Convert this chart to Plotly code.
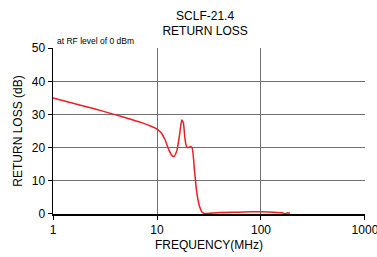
import plotly.graph_objects as go

freq_mhz = [1, 2, 3, 5, 7, 9, 10, 11, 12, 13, 14, 14.5, 15.5, 16.5, 17.3, 17.9, 18.6, 19.3, 20, 21, 21.8, 22.8, 24, 25.5, 27, 28.5, 31, 40, 60, 80, 100, 130, 160, 170, 180, 190]
return_loss_db = [35, 32.5, 31, 29, 27.6, 26.3, 25.6, 24.4, 22.2, 19.3, 17.5, 17.3, 19.0, 24.0, 28.3, 27.5, 22.5, 20.2, 20.0, 20.3, 19.8, 14.0, 7.0, 2.5, 0.6, 0.1, 0.1, 0.4, 0.5, 0.6, 0.6, 0.5, 0.3, 0.0, 0.3, 0.2]

x_tickvals = [1, 10, 100, 1000]
x_ticktext = ["1", "10", "100", "1000"]
y_tickvals = [0, 10, 20, 30, 40, 50]

fig = go.Figure()
fig.add_trace(go.Scatter(x=freq_mhz, y=return_loss_db, mode="lines",
                         line=dict(color="#ee1c24", width=1.5, shape="spline", smoothing=0.6),
                         showlegend=False, hoverinfo="skip", cliponaxis=False))

fig.update_layout(
    width=377, height=257,
    margin=dict(l=53, r=12, t=48, b=43, autoexpand=False),
    paper_bgcolor="white", plot_bgcolor="white",
    font=dict(family="Liberation Sans, Arial, sans-serif", color="black", size=12),
    title=dict(text="SCLF-21.4<br>RETURN LOSS", x=0.544, xanchor="center", y=0.924, yanchor="top",
               font=dict(size=12)),
    xaxis=dict(type="log", range=[-0.0005, 3.0005], tickvals=x_tickvals, ticktext=x_ticktext,
               showgrid=True, gridcolor="#707070", gridwidth=1,
               showline=True, linecolor="black", linewidth=1.5,
               ticks="outside", ticklen=4, tickcolor="black", automargin=False,
               ticklabeloverflow="allow",
               title=dict(text="FREQUENCY(MHz)", standoff=4, font=dict(size=12)),
               zeroline=False),
    yaxis=dict(range=[-0.05, 50.05], tickvals=y_tickvals,
               showgrid=True, gridcolor="#707070", gridwidth=1,
               showline=True, linecolor="black", linewidth=1.5,
               ticks="outside", ticklen=4, tickcolor="black", automargin=False,
               title=dict(text="RETURN LOSS (dB)", standoff=6, font=dict(size=12)),
               zeroline=False),
    annotations=[dict(text="at RF level of 0 dBm", xref="paper", yref="paper",
                      x=0.005, y=1.0, xanchor="left", yanchor="bottom", showarrow=False,
                      font=dict(size=8.5))],
)

fig.write_html("out.html", config={"displayModeBar": False, "staticPlot": True},
               post_script="document.body.style.margin='0';document.body.style.overflow='hidden';")
